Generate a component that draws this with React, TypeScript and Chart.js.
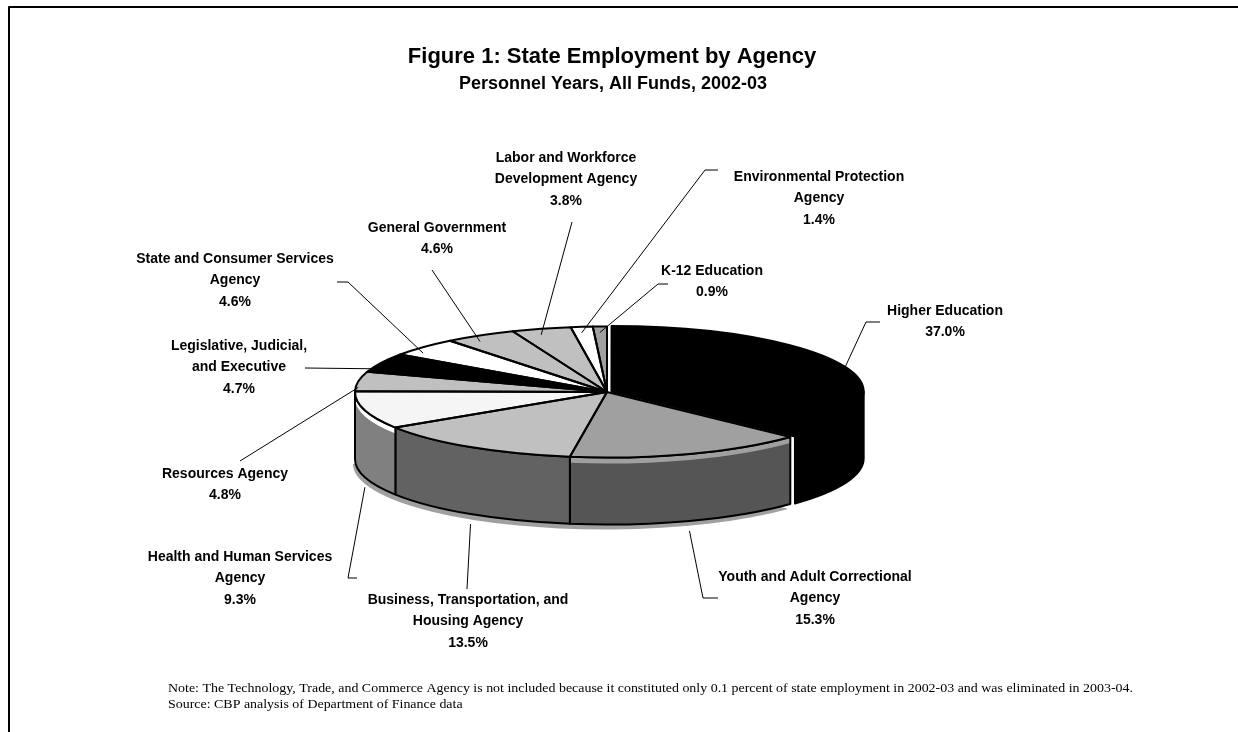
import React, { useEffect, useRef } from 'react';
import { Chart, registerables } from 'chart.js';

Chart.register(...registerables);

// ---------- data ----------
const categories = [
  'Higher Education',
  'Youth and Adult Correctional Agency',
  'Business, Transportation, and Housing Agency',
  'Health and Human Services Agency',
  'Resources Agency',
  'Legislative, Judicial, and Executive',
  'State and Consumer Services Agency',
  'General Government',
  'Labor and Workforce Development Agency',
  'Environmental Protection Agency',
  'K-12 Education',
];
const shares = [37.0, 15.3, 13.5, 9.3, 4.8, 4.7, 4.6, 4.6, 3.8, 1.4, 0.9];
const labelLines = [
  ['Higher Education'],
  ['Youth and Adult Correctional', 'Agency'],
  ['Business, Transportation, and', 'Housing Agency'],
  ['Health and Human Services', 'Agency'],
  ['Resources Agency'],
  ['Legislative, Judicial,', 'and Executive'],
  ['State and Consumer Services', 'Agency'],
  ['General Government'],
  ['Labor and Workforce', 'Development Agency'],
  ['Environmental Protection', 'Agency'],
  ['K-12 Education'],
];
const titleText = 'Figure 1: State Employment by Agency';
const subtitleText = 'Personnel Years, All Funds, 2002-03';
const noteLines = [
  'Note: The Technology, Trade, and Commerce Agency is not included because it constituted only 0.1 percent of state employment in 2002-03 and was eliminated in 2003-04.',
  'Source: CBP analysis of Department of Finance data',
];

// ---------- styles / layout ----------
const topColors = ['#000000', '#a0a0a0', '#c0c0c0', '#f5f5f5', '#c0c0c0', '#000000', '#ffffff', '#c0c0c0', '#c0c0c0', '#ffffff', '#a0a0a0'];
const wallColors = ['#000000', '#555555', '#626262', '#808080', '#808080', '#808080', '#808080', '#808080', '#808080', '#808080', '#808080'];
const stripColors: (string | null)[] = [null, '#a0a0a0', null, '#ffffff', null, null, null, null, null, null, null];
const sliceOffsets = [16, 0, 0, 0, 0, 0, 0, 0, 0, 0, 0];

const TILT = 0.26; // vertical squash of the pie
const DEPTH = 67; // wall height
const PIE_RADIUS = 252;

// label block: center x, first line y
const labelPos: [number, number][] = [
  [945, 311], [815, 577], [468, 600], [240, 557], [225, 474], [239, 346],
  [235, 259], [437, 228], [566, 158], [819, 177], [712, 271],
];
// leader line points after the slice anchor
const leaderPts: [number, number][][] = [
  [[866, 322], [880, 322]],
  [[703, 598], [718, 598]],
  [[467, 589]],
  [[348, 578], [357, 578]],
  [[240, 461]],
  [[305, 368]],
  [[348, 282], [337, 282]],
  [[432, 270]],
  [[572, 222]],
  [[705, 170], [718, 170]],
  [[658, 284], [668, 284]],
];

function arcGeom(arc: any) {
  const p = arc.getProps(['x', 'y', 'startAngle', 'endAngle', 'outerRadius', 'circumference'], true);
  const off = (arc.options.offset || 0) / 4;
  const half = (p.startAngle + p.endAngle) / 2;
  const fix = 1 - Math.sin(Math.min(Math.PI, p.circumference || 0));
  const d = off + off * fix;
  const dx = Math.cos(half) * d;
  const dy = Math.sin(half) * d;
  return {
    cx: p.x, cy: p.y, R: p.outerRadius, s: p.startAngle, e: p.endAngle, half,
    dx, dy, ex: p.x + dx, ey: p.y + dy * TILT,
  };
}

const pie3d = {
  id: 'pie3d',
  beforeDatasetsDraw(chart: any) {
    const ctx = chart.ctx as CanvasRenderingContext2D;
    const arcs = chart.getDatasetMeta(0).data;
    if (!arcs.length) return;
    const g0 = arcGeom(arcs[0]);
    const { cx, cy, R } = g0;
    ctx.save();
    // shadow under the front walls (from the end of the first slice)
    const sh0 = Math.max(0, g0.e);
    ctx.fillStyle = '#a0a0a0';
    ctx.beginPath();
    ctx.ellipse(cx - 2, cy + DEPTH + 5, R, R * TILT, 0, sh0, Math.PI);
    ctx.lineTo(cx, cy + DEPTH);
    ctx.closePath();
    ctx.fill();
    // walls
    arcs.forEach((arc: any, i: number) => {
      const g = arcGeom(arc);
      const a = Math.max(g.s, 0);
      const b = Math.min(g.e, Math.PI);
      if (a >= b) return;
      const rx = g.R, ry = g.R * TILT;
      ctx.beginPath();
      ctx.ellipse(g.ex, g.ey, rx, ry, 0, a, b);
      ctx.ellipse(g.ex, g.ey + DEPTH, rx, ry, 0, b, a, true);
      ctx.closePath();
      ctx.fillStyle = wallColors[i];
      ctx.fill();
      const sc = stripColors[i];
      if (sc) {
        ctx.beginPath();
        ctx.ellipse(g.ex, g.ey, rx, ry, 0, a, b);
        ctx.ellipse(g.ex, g.ey + 6, rx, ry, 0, b, a, true);
        ctx.closePath();
        ctx.fillStyle = sc;
        ctx.fill();
      }
      ctx.beginPath();
      ctx.ellipse(g.ex, g.ey, rx, ry, 0, a, b);
      ctx.ellipse(g.ex, g.ey + DEPTH, rx, ry, 0, b, a, true);
      ctx.closePath();
      ctx.lineWidth = 2;
      ctx.strokeStyle = '#000';
      ctx.lineJoin = 'round';
      ctx.stroke();
    });
    ctx.restore();
    // squash the top face
    ctx.save();
    ctx.translate(cx, cy);
    ctx.scale(1, TILT);
    ctx.translate(-cx, -cy);
  },
  afterDatasetsDraw(chart: any) {
    const ctx = chart.ctx as CanvasRenderingContext2D;
    ctx.restore();
    const arcs = chart.getDatasetMeta(0).data;
    arcs.forEach((arc: any) => {
      const g = arcGeom(arc);
      ctx.save();
      ctx.translate(g.cx, g.cy);
      ctx.scale(1, TILT);
      ctx.translate(-g.cx, -g.cy);
      ctx.beginPath();
      ctx.moveTo(g.cx + g.dx, g.cy + g.dy);
      ctx.arc(g.cx + g.dx, g.cy + g.dy, g.R, g.s, g.e);
      ctx.closePath();
      ctx.restore();
      ctx.lineWidth = 2;
      ctx.strokeStyle = '#000';
      ctx.lineJoin = 'round';
      ctx.stroke();
    });
  },
};

const annotations = {
  id: 'annotations',
  afterDraw(chart: any) {
    const ctx = chart.ctx as CanvasRenderingContext2D;
    const arcs = chart.getDatasetMeta(0).data;
    ctx.save();
    ctx.fillStyle = '#000';
    ctx.textAlign = 'center';
    ctx.textBaseline = 'middle';
    ctx.font = 'bold 22px "Liberation Sans", Arial, sans-serif';
    ctx.fillText(titleText, 612, 57);
    ctx.font = 'bold 18px "Liberation Sans", Arial, sans-serif';
    ctx.fillText(subtitleText, 613, 84);

    // leader lines
    ctx.strokeStyle = '#000';
    ctx.lineWidth = 1;
    arcs.forEach((arc: any, i: number) => {
      const g = arcGeom(arc);
      const t = g.half;
      const tn = ((t % (2 * Math.PI)) + 2 * Math.PI) % (2 * Math.PI);
      const front = tn > 0 && tn < Math.PI;
      const ax = g.ex + g.R * Math.cos(t);
      const ay = g.ey + g.R * TILT * Math.sin(t) + (front ? DEPTH + 10 : 6);
      ctx.beginPath();
      ctx.moveTo(ax, ay);
      leaderPts[i].forEach(([x, y]) => ctx.lineTo(x, y));
      ctx.stroke();
    });

    // labels
    ctx.font = 'bold 14px "Liberation Sans", Arial, sans-serif';
    labelLines.forEach((lines, i) => {
      const [x, y] = labelPos[i];
      const all = [...lines, shares[i].toFixed(1) + '%'];
      all.forEach((ln, j) => ctx.fillText(ln, x, y + j * 21.5));
    });

    // footnote
    ctx.textAlign = 'left';
    ctx.font = '12.5px "Liberation Serif", "Times New Roman", serif';
    const w = ctx.measureText(noteLines[0]).width;
    const sx = 965 / w;
    noteLines.forEach((ln, j) => {
      ctx.save();
      ctx.translate(168, 689 + j * 15.5);
      ctx.scale(sx, 1);
      ctx.fillText(ln, 0, 0);
      ctx.restore();
    });

    // frame
    ctx.lineWidth = 2;
    ctx.beginPath();
    ctx.moveTo(9, 732);
    ctx.lineTo(9, 7);
    ctx.lineTo(1238, 7);
    ctx.stroke();
    ctx.restore();
  },
};

export default function App() {
  const ref = useRef<HTMLCanvasElement | null>(null);
  useEffect(() => {
    if (!ref.current) return;
    const chart = new Chart(ref.current, {
      type: 'pie',
      data: {
        labels: categories,
        datasets: [
          {
            data: shares,
            backgroundColor: topColors,
            borderWidth: 0,
            offset: sliceOffsets,
            clip: false,
          } as any,
        ],
      },
      options: {
        responsive: false,
        animation: false,
        radius: PIE_RADIUS,
        events: [],
        layout: { padding: { left: 355, right: 379, top: 140, bottom: 88 } },
        plugins: {
          legend: { display: false },
          title: { display: false },
          tooltip: { enabled: false },
        },
      } as any,
      plugins: [pie3d, annotations],
    });
    return () => chart.destroy();
  }, []);
  return (
    <div style={{ position: 'fixed', left: 0, top: 0, width: 1238, height: 732, background: '#fff', overflow: 'hidden' }}>
      <canvas ref={ref} width={1238} height={732} style={{ display: 'block' }} />
    </div>
  );
}
